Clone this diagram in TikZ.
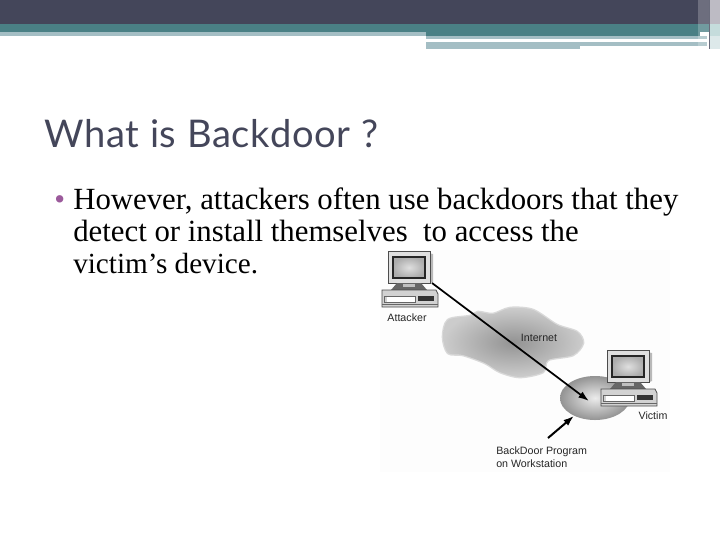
\documentclass[tikz,border=0pt]{standalone}
\usepackage{fontspec}
\usepackage{tikz}
\usetikzlibrary{shapes.geometric,arrows.meta}
\setmainfont{Liberation Serif}
\newfontfamily\titlefont[LetterSpace=2]{Lato}
\newfontfamily\labelfont{Liberation Sans}
\definecolor{slatedark}{HTML}{44465A}
\definecolor{tealband}{HTML}{4A8085}
\definecolor{tealpale}{HTML}{A4BEC4}
\definecolor{photobg}{HTML}{FDFDFD}
\definecolor{edgegrey}{HTML}{BDBBC4}
\definecolor{edgeteal}{HTML}{C5DCDC}
\definecolor{edgepale}{HTML}{DDE9EA}
\definecolor{bulletpurple}{HTML}{9B5A9B}
\tikzset{
	photolabel/.style={font=\labelfont\fontsize{8}{9.75}\selectfont,text=black!85,inner sep=0pt,align=left},
	bodyline/.style={anchor=base west,inner sep=0pt,text=black,font=\fontsize{23.1}{25}\selectfont},
	computer/.pic={
		% monitor
		\fill[gray!55] (40,2) -- (45,3) -- (45,31) -- (40,33) -- cycle;
		\draw[black!70,fill=gray!25,line width=.7] (0,0) rectangle (42,32);
		\draw[black!85,line width=1,inner color=gray!25,outer color=gray!65,shade] (5,6) rectangle (37,27);
		% stand
		\fill[black!60] (9,32) -- (33,32) -- (39,39) -- (3,39) -- cycle;
		\fill[gray!50] (15,33) rectangle (27,36);
		% base
		\draw[black!70,fill=gray!35,line width=.6] (-6,39) -- (48,39) -- (50,43) -- (50,56) -- (-6,56) -- cycle;
		\fill[white] (-1,45) rectangle (27,51);
		\draw[black!60,line width=.4] (-4,45) rectangle (27,51);
		\fill[black!80] (30,45) rectangle (46,50);
		\draw[black!60,line width=.5] (-6,53) -- (50,53);
	}
}
\begin{document}
\begin{tikzpicture}[>={Latex[length=8pt,width=5.5pt]},x=.75pt,y=-.75pt]
	\useasboundingbox (0,0) rectangle (720,540);

	% header bands
	\fill[slatedark] (0,0) rectangle (720,24);
	\fill[tealband] (0,24) rectangle (720,32);
	\fill[tealpale] (0,32) rectangle (426,36);
	\fill[tealband] (426,32) rectangle (700,36);
	\fill[tealpale] (426,36) rectangle (707,38.7);
	\fill[white] (426,38.7) rectangle (667,41.7);
	\fill[tealpale] (426,41.7) rectangle (580,49);
	\fill[tealpale] (580,41.7) rectangle (707,45.7);
	\fill[white,opacity=.22] (698,0) rectangle (708.5,45.7);
	\fill[edgegrey] (710,0) rectangle (720,24);
	\fill[edgeteal] (710,24) rectangle (720,36);
	\fill[edgepale] (710,36) rectangle (720,49);
	\fill[slatedark!80] (708.5,0) rectangle (710,49);

	\node[anchor=base west,inner sep=0pt,text=slatedark,font=\titlefont\fontsize{28.6}{32}\selectfont] (title) at (44,147) {What is Backdoor ?};
	\node[bodyline,text=bulletpurple] (bullet) at (54,209) {•};
	\node[bodyline] (bodya) at (73,209) {However, attackers often use backdoors that they};
	\node[bodyline] (bodyb) at (73,241) {detect or install themselves\ \ to access the};
	\node[bodyline,font=\fontsize{21.9}{25}\selectfont] (bodyc) at (73,273) {victim’s device.};

	% picture
	\fill[photobg] (380,250) rectangle (670,472);
	\draw[gray!30,line width=2,fill=gray!40] plot[smooth cycle] coordinates {(443,337) (448,320) (470,316) (478,312) (493,314) (510,308) (533,310) (557,325) (577,332) (583,343) (573,355) (548,360) (543,372) (520,377) (500,372) (485,363) (463,355) (448,353)};
	\shade[inner color=gray!85,outer color=gray!40] plot[smooth cycle] coordinates {(443,337) (448,320) (470,316) (478,312) (493,314) (510,308) (533,310) (557,325) (577,332) (583,343) (573,355) (548,360) (543,372) (520,377) (500,372) (485,363) (463,355) (448,353)};

	\node[ellipse,minimum width=52.5pt,minimum height=33pt,inner sep=0pt,inner color=gray!15,outer color=gray!85,shade] (HOST) at (595,398) {};
	\pic at (388,251) {computer};
	\pic at (607,350) {computer};

	\coordinate (ATK) at (432,283);
	\coordinate (HIT) at (589,401);
	\coordinate (TAIL) at (548,438);

	\node[photolabel] (attacker) at (407,318) {Attacker};
	\node[photolabel] (internet) at (539,338) {Internet};
	\node[photolabel] (victim) at (653,416) {Victim};
	\node[photolabel,anchor=north west] (program) at (496,446) {BackDoor Program\\on Workstation};

	\draw[->,line width=1.3] (ATK) -- (HIT);
	\draw[->,line width=1.5] (TAIL) -- (HOST);
\end{tikzpicture}
\end{document}
